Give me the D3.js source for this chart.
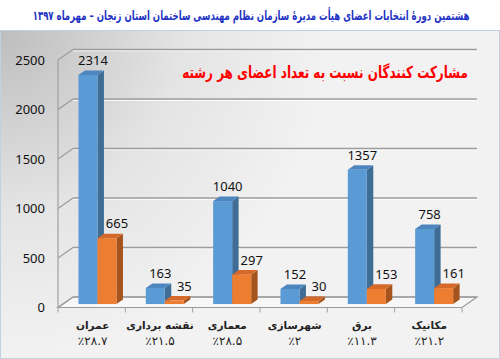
<!DOCTYPE html>
<html lang="fa">
<head>
<meta charset="utf-8">
<title>مشارکت کنندگان نسبت به تعداد اعضای هر رشته</title>
<script src="https://cdnjs.cloudflare.com/ajax/libs/d3/7.8.5/d3.min.js"></script>
<style>
  body { margin: 0; background: #fff; }
  svg text { font-family: "Noto Sans", "DejaVu Sans", sans-serif; }
  .fa { font-family: "DejaVu Sans", sans-serif; }
</style>
</head>
<body>
<svg id="chart" width="500" height="359"></svg>
<script>
// data
var fields   = ["عمران", "نقشه برداری", "معماری", "شهرسازی", "برق", "مکانیک"];
var percents = ["٪۲۸.۷", "٪۲۱.۵", "٪۲۸.۵", "٪۲", "٪۱۱.۳", "٪۲۱.۲"];
var members  = [2314, 163, 1040, 152, 1357, 758];
var voters   = [665, 35, 297, 30, 153, 161];
var yTicks   = [0, 500, 1000, 1500, 2000, 2500];

var title = "هشتمین دورهٔ انتخابات اعضای هیأت مدیرهٔ سازمان نظام مهندسی ساختمان استان زنجان – مهرماه ۱۳۹۷";
var subtitle = "مشارکت کنندگان نسبت به تعداد اعضای هر رشته";

var svg = d3.select("#chart");

// 3d box geometry
var floorY = 307.5, DX = 15, DY = 10.5;
var x = d3.scaleBand().domain(fields).range([58, 462]).paddingInner(0).paddingOuter(0);
var xs = d3.scaleBand().domain(["m", "v"]).range([0, x.bandwidth()]).paddingInner(0).paddingOuter(0.77).align(0.53);
var h = d3.scaleLinear().domain([0, 2500]).range([0, 247.5]);

function P(px, v, z) { return [px + z * DX, floorY - h(v) - z * DY]; }
function poly(pts) { return pts.map(function(p) { return p.join(","); }).join(" "); }

// squeeze a centred text horizontally to a given width
function squeeze(sel, cx, y, w) {
  var len = sel.node().getComputedTextLength();
  sel.attr("x", 0).attr("y", 0)
    .attr("transform", "translate(" + cx + "," + y + ") scale(" + (w / len) + ",1)");
}

// background panel
var defs = svg.append("defs");
var rg = defs.append("radialGradient").attr("id", "bg")
  .attr("gradientUnits", "userSpaceOnUse").attr("cx", 0).attr("cy", 30).attr("r", 330);
rg.append("stop").attr("offset", 0).attr("stop-color", "#bdbdbd");
rg.append("stop").attr("offset", 0.55).attr("stop-color", "#e4e4e4");
rg.append("stop").attr("offset", 1).attr("stop-color", "#f2f2f2");

svg.append("rect").attr("x", 0.5).attr("y", 30.5).attr("width", 499).attr("height", 328)
  .attr("fill", "url(#bg)").attr("stroke", "#c3d0e0");

// title
var t = svg.append("text").attr("class", "fa")
  .attr("text-anchor", "middle").attr("font-size", 13).attr("font-weight", "bold")
  .attr("fill", "#1f33c4").text(title);
squeeze(t, 251, 20, 437);

// floor
svg.append("polygon")
  .attr("points", poly([P(58, 0, 0), P(462, 0, 0), P(462, 0, 1), P(58, 0, 1)]))
  .attr("fill", "#f7f7f7").attr("stroke", "#9a9a9a").attr("stroke-width", 1.2);

// gridlines on back wall + side wall diagonals
yTicks.forEach(function(v) {
  var a = P(58, v, 0), b = P(58, v, 1), c = P(462, v, 1);
  if (v > 0) {
    svg.append("line").attr("x1", b[0]).attr("y1", b[1] + 1.3).attr("x2", c[0]).attr("y2", c[1] + 1.3)
      .attr("stroke", "#ffffff").attr("stroke-width", 1);
  }
  svg.append("line").attr("x1", b[0]).attr("y1", b[1]).attr("x2", c[0]).attr("y2", c[1])
    .attr("stroke", "#9c9c9c").attr("stroke-width", 1.3);
  svg.append("line").attr("x1", a[0]).attr("y1", a[1]).attr("x2", b[0]).attr("y2", b[1])
    .attr("stroke", "#9c9c9c").attr("stroke-width", 1.2);
  svg.append("text").attr("x", 45).attr("y", a[1] + 4.5).attr("text-anchor", "end")
    .attr("font-size", 13).attr("fill", "#111").text(v);
});
svg.append("line").attr("x1", 58).attr("y1", P(58, 0, 0)[1]).attr("x2", 58).attr("y2", P(58, 2500, 0)[1])
  .attr("stroke", "#a0a0a0").attr("stroke-width", 1.2);

// category ticks
x.domain().concat(["end"]).forEach(function(f, i) {
  var px = 58 + i * x.step();
  svg.append("line").attr("x1", px).attr("y1", floorY).attr("x2", px).attr("y2", floorY + 5)
    .attr("stroke", "#a0a0a0").attr("stroke-width", 1);
});

// subtitle
var st = svg.append("text").attr("class", "fa")
  .attr("text-anchor", "middle").attr("font-size", 16.5).attr("font-weight", "bold")
  .attr("fill", "#ff0000").text(subtitle);
squeeze(st, 325, 78, 286);

// bars
var series = [
  { key: "m", vals: members, front: "#5b9bd5", side: "#3f6d96", top: "#4d86be", dl: 5 },
  { key: "v", vals: voters,  front: "#ed7d31", side: "#a6541e", top: "#d4692a", dl: 10 }
];
var z0 = 0.33, z1 = 0.76;

fields.forEach(function(f, i) {
  series.forEach(function(s) {
    var v = s.vals[i];
    var x0 = x(f) + xs(s.key), x1 = x0 + xs.bandwidth();
    var g = svg.append("g");
    // side
    g.append("polygon").attr("points", poly([P(x1, 0, z0), P(x1, 0, z1), P(x1, v, z1), P(x1, v, z0)]))
      .attr("fill", s.side);
    // top
    g.append("polygon").attr("points", poly([P(x0, v, z0), P(x1, v, z0), P(x1, v, z1), P(x0, v, z1)]))
      .attr("fill", s.top);
    // front
    var a = P(x0, v, z0), b = P(x1, 0, z0);
    g.append("rect").attr("x", a[0]).attr("y", a[1]).attr("width", b[0] - a[0]).attr("height", b[1] - a[1])
      .attr("fill", s.front);
    g.append("text").attr("x", (a[0] + b[0]) / 2 + s.dl).attr("y", a[1] - 10)
      .attr("text-anchor", "middle").attr("font-size", 13).attr("fill", "#111").text(v);
  });
});

// category labels
fields.forEach(function(f, i) {
  var cx = x(f) + x.bandwidth() / 2 + 1;
  svg.append("text").attr("class", "fa").attr("x", cx).attr("y", 329)
    .attr("text-anchor", "middle").attr("font-size", 10.5).attr("font-weight", "bold")
    .attr("fill", "#222").text(f);
  svg.append("text").attr("class", "fa").attr("x", cx).attr("y", 345)
    .attr("text-anchor", "middle").attr("font-size", 12)
    .attr("fill", "#222").text(percents[i]);
});
</script>
</body>
</html>
